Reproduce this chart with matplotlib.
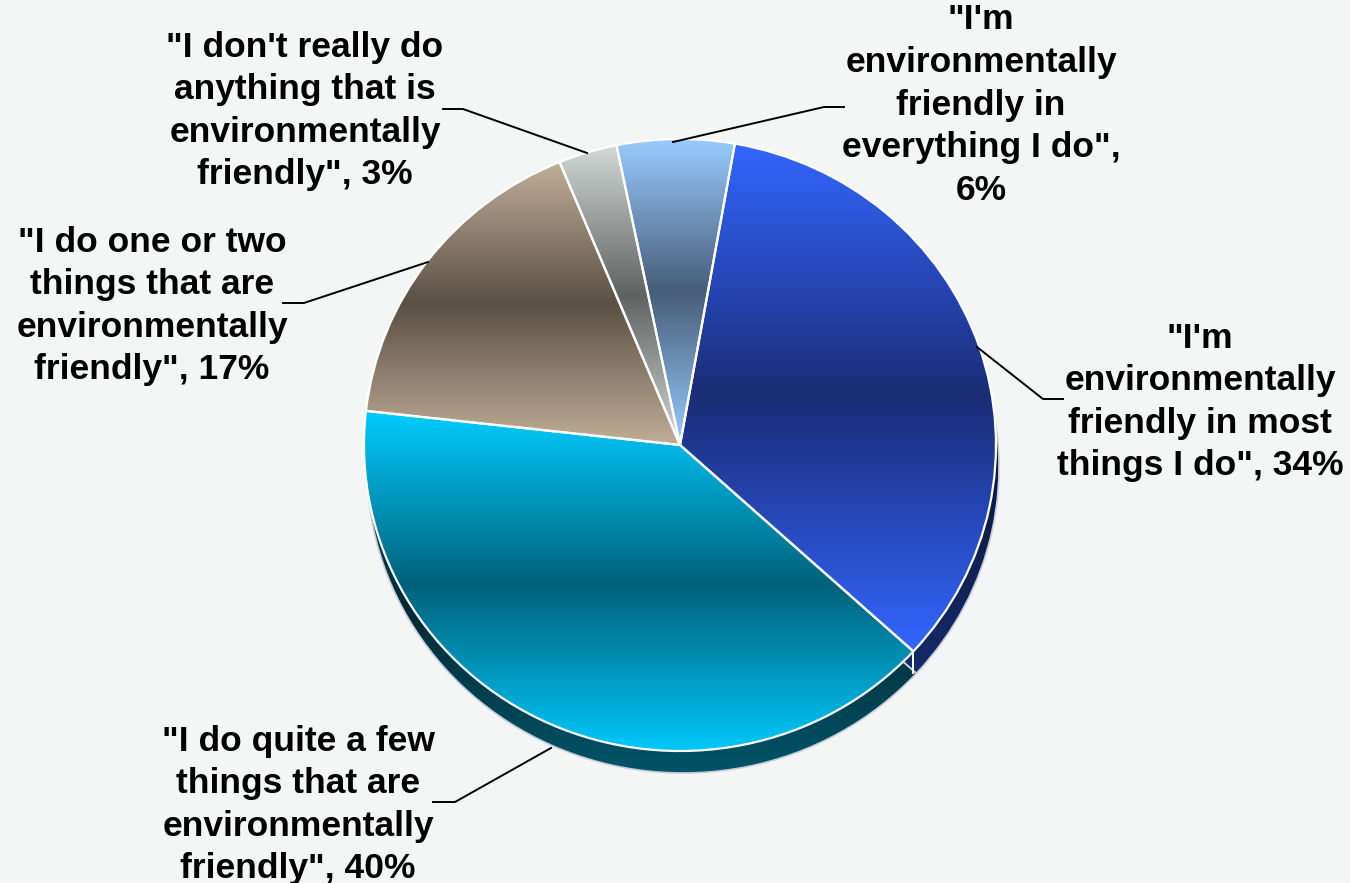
import numpy as np
import matplotlib
matplotlib.use("Agg")
import matplotlib.pyplot as plt
from matplotlib.colors import to_rgb

# slices, clockwise from the top
labels = ['"I\'m\nenvironmentally\nfriendly in most\nthings I do", 34%',
          '"I do quite a few\nthings that are\nenvironmentally\nfriendly", 40%',
          '"I do one or two\nthings that are\nenvironmentally\nfriendly", 17%',
          '"I don\'t really do\nanything that is\nenvironmentally\nfriendly", 3%',
          '"I\'m\nenvironmentally\nfriendly in\neverything I do",\n6%']
values = [34, 40, 17, 3, 6]
light = ['#3366ff', '#00ccff', '#c0ae97', '#d3d9d7', '#99ccff']
dark = ['#1a2c76', '#00617a', '#5a5045', '#5e6260', '#465d78']

# label centres and leader lines, in pixels of the 1350x883 picture
label_xy = [(1200, 402), (298, 805), (152, 306), (305, 111), (981, 105)]
leaders = [[(977, 347), (1043, 399), (1063, 399)],
           [(551, 748), (455, 802), (433, 802)],
           [(428, 262), (304, 303), (283, 303)],
           [(587, 153), (463, 109), (443, 109)],
           [(673, 142), (824, 107), (844, 107)]]

W, H = 1350, 883
cx, cy, rx, ry = 680, 445, 316, 306
depth, shift = 22, 3
bg = '#f4f5f5'


def px(x, y):
    return (x - cx) / rx, (cy - y) / ry


fig = plt.figure(figsize=(W / 100, H / 100), dpi=100, facecolor=bg)
ax = fig.add_axes([0, 0, 1, 1])
ax.set_facecolor(bg)
ax.axis('off')


def fill_gradient(wedge, c1, c2, z, k=1.0):
    v = wedge.get_path().vertices
    x0, x1 = v[:, 0].min(), v[:, 0].max()
    y0, y1 = v[:, 1].min(), v[:, 1].max()
    t = np.linspace(0, 1, 256)
    m = 1 - np.abs(2 * t - 1)
    a, b = np.array(to_rgb(c1)), np.array(to_rgb(c2))
    col = (a[None, :] * (1 - m[:, None]) + b[None, :] * m[:, None]) * k
    img = np.repeat(col[:, None, :], 2, axis=1)
    im = ax.imshow(img, extent=[x0, x1, y0, y1], origin='lower',
                   aspect='auto', interpolation='bilinear', zorder=z)
    im.set_clip_path(wedge)


# side of the pie: a darker copy shifted down
side, _ = ax.pie(values, startangle=80, counterclock=False,
                 center=(shift / rx, -depth / ry), radius=1,
                 wedgeprops=dict(edgecolor='#c5ccd8', linewidth=1.2, zorder=1))
for w, c1, c2 in zip(side, light, dark):
    w.set_facecolor('none')
    fill_gradient(w, c1, c2, 1, k=0.42)
    w.set_zorder(1.5)

top, _ = ax.pie(values, startangle=80, counterclock=False, center=(0, 0), radius=1,
                wedgeprops=dict(edgecolor='white', linewidth=1.6))
for w, c1, c2 in zip(top, light, dark):
    w.set_facecolor(bg)
    w.set_zorder(2)
    fill_gradient(w, c1, c2, 2.2)
    w.set_facecolor('none')
    w.set_zorder(2.5)

# seam between the two visible sides
ang = np.deg2rad(80 - 360 * values[0] / sum(values))
sx, sy = np.cos(ang), np.sin(ang)
ax.plot([sx, sx], [sy, sy - depth / ry], color='white', lw=1.4, zorder=2.6)

for lab, (tx, ty), pts in zip(labels, label_xy, leaders):
    xs, ys = zip(*[px(*p) for p in pts])
    ax.plot(xs, ys, color='black', lw=1.4, zorder=3)
    ax.text(*px(tx, ty), lab, ha='center', va='center', multialignment='center',
            fontsize=25.5, fontweight='bold', family='Liberation Sans',
            linespacing=1.37, zorder=4)

ax.set_xlim(-cx / rx, (W - cx) / rx)
ax.set_ylim((cy - H) / ry, cy / ry)

fig.savefig('out.png', dpi=100, facecolor=bg)
